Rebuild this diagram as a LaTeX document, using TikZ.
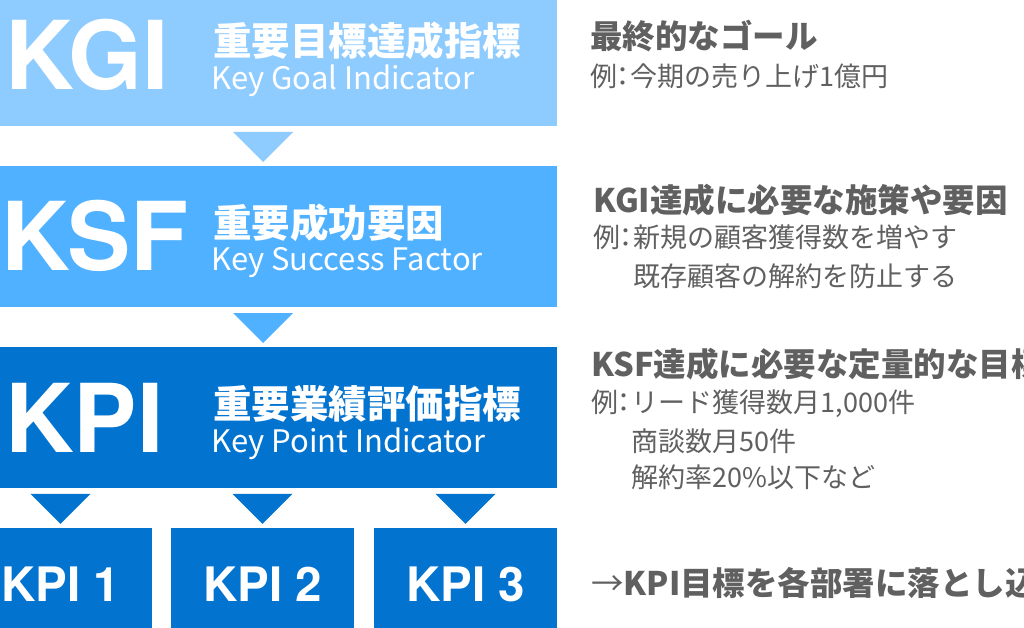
\documentclass[tikz,border=0pt]{standalone}
\usepackage{fontspec}
\setmainfont{TeX Gyre Heros}
\newfontfamily\jp{Noto Sans CJK JP}
\usepackage{tikz}
\definecolor{kgiblue}{HTML}{8ECBFE}
\definecolor{ksfblue}{HTML}{4FB1FF}
\definecolor{kpiblue}{HTML}{0373D0}
\definecolor{textgray}{HTML}{606060}
\newcommand{\rei}{例\kern-.3em：\kern-.2em}

\begin{document}
\begin{tikzpicture}[x=1pt,y=1pt,
  band/.style={rectangle,anchor=north west,inner sep=0pt,minimum width=588pt},
  big/.style={anchor=base west,inner sep=0pt,text=white,font=\fontsize{95}{95}\selectfont\bfseries},
  title/.style={anchor=west,inner sep=0pt,text=white,font=\jp\fontsize{38.5}{40}\selectfont\bfseries},
  sub/.style={anchor=base west,inner sep=0pt,text=white,font=\jp\fontsize{31}{32}\selectfont},
  kpibox/.style={rectangle,fill=kpiblue,inner sep=0pt,minimum width=183pt,minimum height=112pt,
    text height=34pt,text depth=0pt,text=white,font=\fontsize{47.5}{48}\selectfont\bfseries},
  head/.style={anchor=west,inner sep=0pt,text=textgray,font=\jp\fontsize{32.5}{34}\selectfont\bfseries},
  note/.style={anchor=west,inner sep=0pt,text=textgray,font=\jp\fontsize{27}{29}\selectfont}]
\path[fill=white,use as bounding box] (0,0) rectangle (1024,-628);
\clip (0,0) rectangle (1024,-628);
% bands
\path (-31,0) node(kgi)[band,fill=kgiblue,minimum height=126pt]{}
(-31,-166) node(ksf)[band,fill=ksfblue,minimum height=141pt]{}
(-31,-347) node(kpi)[band,fill=kpiblue,minimum height=141pt]{}
(60.5,-584) node(kpia)[kpibox]{KPI 1}
(262.5,-584) node(kpib)[kpibox]{KPI 2}
(465.5,-584) node(kpic)[kpibox]{KPI 3};
% band texts
\path (5,-90) node(kginame)[big]{KGI}
(213,-41) node(kgititle)[title]{重要目標達成指標}
(211,-90) node(kgisub)[sub]{Key Goal Indicator}
(1,-270) node(ksfname)[big]{KSF}
(213,-223) node(ksftitle)[title]{重要成功要因}
(211,-270) node(ksfsub)[sub]{Key Success Factor}
(5,-452) node(kpiname)[big]{KPI}
(213,-404) node(kpititle)[title]{重要業績評価指標}
(211,-452) node(kpisub)[sub]{Key Point Indicator};
% triangles
\fill[kgiblue]([shift={(-30,34)}]ksf.north)--([shift={(30,34)}]ksf.north)--([yshift=4pt]ksf.north)--cycle;
\fill[ksfblue]([shift={(-30,34)}]kpi.north)--([shift={(30,34)}]kpi.north)--([yshift=4pt]kpi.north)--cycle;
\fill[kpiblue]([shift={(-30,34)}]kpia.north)--([shift={(30,34)}]kpia.north)--([yshift=4pt]kpia.north)--cycle;
\fill[kpiblue]([shift={(-30,34)}]kpib.north)--([shift={(30,34)}]kpib.north)--([yshift=4pt]kpib.north)--cycle;
\fill[kpiblue]([shift={(-30,34)}]kpic.north)--([shift={(30,34)}]kpic.north)--([yshift=4pt]kpic.north)--cycle;
% notes on the right
\path (590,-36.5) node(kgihead)[head]{最終的なゴール}
(590,-76) node(kgiex)[note]{\rei 今期の売り上げ1億円}
(593,-200.5) node(ksfhead)[head]{KGI達成に必要な施策や要因}
(593,-237.5) node(ksfexa)[note]{\rei 新規の顧客獲得数を増やす}
(633,-276) node(ksfexb)[note]{既存顧客の解約を防止する}
(591,-364.5) node(kpihead)[head]{KSF達成に必要な定量的な目標}
(591,-404) node(kpiexa)[note]{\rei リード獲得数月1,000件}
(631,-441) node(kpiexb)[note]{商談数月50件}
(631,-477.5) node(kpiexc)[note]{解約率20\%以下など}
(591,-582.5) node(kpigoal)[head]{{\mdseries →}KPI目標を各部署に落とし込む};
\end{tikzpicture}
\end{document}
